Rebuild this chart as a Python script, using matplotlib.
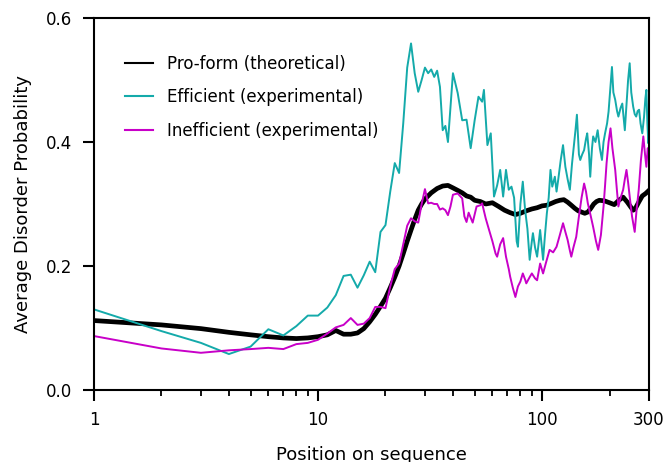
import matplotlib
matplotlib.use("Agg")
import matplotlib.pyplot as plt
from matplotlib.lines import Line2D
from matplotlib.ticker import FixedLocator, FixedFormatter, NullFormatter

plt.rcParams["font.family"] = ["DejaVu Sans"]

# pro-form (theoretical) disorder
pro_pos = [1, 2, 3, 4, 5, 6, 7, 8, 9, 10, 11, 12, 13, 14, 15, 16, 17, 18, 19, 20,
           21, 22, 23, 24, 25, 26, 27, 28, 29, 30, 32, 34, 36, 38, 40, 42, 44, 46,
           48, 50, 53, 56, 60, 64, 68, 72, 76, 80, 85, 90, 95, 100, 105, 110, 115,
           120, 125, 130, 135, 140, 145, 150, 155, 160, 165, 170, 175, 180, 190,
           200, 210, 220, 230, 240, 250, 255, 260, 270, 280, 290, 300]
pro_val = [0.112, 0.105, 0.099, 0.093, 0.089, 0.086, 0.084, 0.083, 0.084, 0.086,
           0.089, 0.096, 0.090, 0.090, 0.092, 0.099, 0.110, 0.122, 0.135, 0.148,
           0.165, 0.182, 0.200, 0.220, 0.240, 0.258, 0.275, 0.290, 0.300, 0.308,
           0.318, 0.325, 0.329, 0.330, 0.326, 0.322, 0.318, 0.313, 0.311, 0.306,
           0.304, 0.300, 0.302, 0.296, 0.290, 0.286, 0.283, 0.285, 0.289, 0.292,
           0.294, 0.297, 0.298, 0.301, 0.304, 0.306, 0.307, 0.303, 0.298, 0.293,
           0.289, 0.287, 0.285, 0.287, 0.293, 0.300, 0.304, 0.306, 0.305, 0.302,
           0.299, 0.306, 0.311, 0.303, 0.294, 0.290, 0.292, 0.303, 0.313, 0.317,
           0.322]

# efficient (experimental)
eff_pos = [1, 2, 3, 4, 5, 6, 7, 8, 9, 10, 11, 12, 13, 14, 15, 16, 17, 18, 19, 20,
           21, 22, 23, 24, 25, 26, 27, 28, 29, 30, 31, 32, 33, 34, 35, 36, 37, 38,
           39, 40, 42, 44, 46, 48, 50, 52, 54, 55, 57, 59, 61, 63, 65, 67, 69, 71,
           73, 75, 77, 78, 80, 82, 84, 86, 88, 90, 91, 93, 95, 98, 101, 103, 105,
           107, 109, 111, 114, 116, 118, 121, 124, 127, 130, 133, 136, 138, 141,
           143, 146, 148, 151, 154, 157, 159, 162, 164, 167, 169, 173, 177, 181,
           185, 188, 191, 195, 198, 202, 205, 208, 212, 216, 219, 224, 228, 231,
           234, 238, 242, 246, 250, 255, 259, 263, 267, 271, 275, 280, 285, 289,
           292, 295, 298, 300]
eff_val = [0.130, 0.095, 0.076, 0.058, 0.070, 0.098, 0.088, 0.103, 0.120, 0.120,
           0.133, 0.153, 0.184, 0.186, 0.165, 0.185, 0.207, 0.190, 0.255, 0.266,
           0.320, 0.366, 0.350, 0.430, 0.520, 0.559, 0.511, 0.481, 0.500, 0.520,
           0.511, 0.517, 0.505, 0.515, 0.489, 0.419, 0.426, 0.400, 0.455, 0.511,
           0.479, 0.435, 0.436, 0.390, 0.435, 0.473, 0.465, 0.484, 0.395, 0.414,
           0.312, 0.330, 0.355, 0.312, 0.355, 0.323, 0.328, 0.310, 0.240, 0.231,
           0.300, 0.336, 0.290, 0.260, 0.210, 0.240, 0.253, 0.230, 0.215, 0.258,
           0.210, 0.250, 0.285, 0.310, 0.355, 0.328, 0.344, 0.320, 0.339, 0.370,
           0.395, 0.360, 0.340, 0.323, 0.365, 0.387, 0.420, 0.444, 0.380, 0.371,
           0.380, 0.387, 0.405, 0.414, 0.380, 0.344, 0.390, 0.409, 0.400, 0.419,
           0.390, 0.371, 0.400, 0.414, 0.430, 0.449, 0.490, 0.521, 0.480, 0.468,
           0.450, 0.441, 0.455, 0.462, 0.440, 0.419, 0.460, 0.500, 0.527, 0.480,
           0.457, 0.445, 0.441, 0.450, 0.452, 0.430, 0.414, 0.440, 0.470, 0.484,
           0.430, 0.398, 0.450]

# inefficient (experimental)
ineff_pos = [1, 2, 3, 4, 5, 6, 7, 8, 9, 10, 11, 12, 13, 14, 15, 16, 17, 18, 19, 20,
             21, 22, 23, 24, 25, 26, 27, 28, 29, 30, 31, 32, 33, 34, 35, 36, 37, 38,
             39, 40, 42, 44, 45, 46, 47, 49, 51, 53, 54, 56, 58, 60, 62, 63, 65, 67,
             69, 71, 72, 74, 76, 78, 80, 82, 84, 85, 88, 90, 93, 95, 98, 101, 104,
             108, 112, 116, 120, 124, 127, 130, 133, 135, 138, 142, 146, 150, 154,
             157, 160, 165, 169, 174, 178, 183, 188, 191, 194, 198, 202, 206, 212,
             216, 219, 224, 230, 234, 238, 242, 246, 252, 259, 264, 270, 276, 283,
             288, 292, 296, 300]
ineff_val = [0.087, 0.067, 0.060, 0.064, 0.066, 0.068, 0.066, 0.074, 0.076, 0.081,
             0.091, 0.101, 0.105, 0.116, 0.105, 0.107, 0.116, 0.134, 0.134, 0.132,
             0.167, 0.195, 0.204, 0.235, 0.265, 0.277, 0.272, 0.270, 0.300, 0.324,
             0.301, 0.302, 0.300, 0.300, 0.291, 0.293, 0.290, 0.282, 0.296, 0.315,
             0.317, 0.309, 0.280, 0.271, 0.286, 0.270, 0.296, 0.298, 0.301, 0.277,
             0.258, 0.240, 0.220, 0.215, 0.235, 0.245, 0.215, 0.195, 0.183, 0.165,
             0.150, 0.167, 0.175, 0.188, 0.178, 0.172, 0.182, 0.188, 0.180, 0.177,
             0.204, 0.188, 0.205, 0.226, 0.222, 0.231, 0.250, 0.269, 0.255, 0.242,
             0.225, 0.215, 0.230, 0.247, 0.280, 0.310, 0.333, 0.320, 0.301, 0.280,
             0.263, 0.240, 0.226, 0.250, 0.296, 0.330, 0.366, 0.400, 0.422, 0.390,
             0.355, 0.320, 0.296, 0.310, 0.323, 0.340, 0.355, 0.335, 0.312, 0.280,
             0.255, 0.290, 0.323, 0.370, 0.409, 0.380, 0.360, 0.390, 0.387]

labels = ["Pro-form (theoretical)", "Efficient (experimental)",
          "Inefficient (experimental)"]
colors = ["black", "#14aaaa", "#c800c8"]

x_major = [1, 10, 100, 300]
x_major_labels = ["1", "10", "100", "300"]
x_minor = [2, 3, 4, 5, 6, 7, 8, 9, 20, 30, 40, 50, 60, 70, 80, 90, 200]
y_ticks = [0.0, 0.2, 0.4, 0.6]

fig = plt.figure(figsize=(6.65, 4.62), dpi=100)
ax = fig.add_axes([94 / 665, 72 / 462, 555 / 665, 372 / 462])

ax.plot(pro_pos, pro_val, color=colors[0], lw=3.4, solid_joinstyle="round")
ax.plot(eff_pos, eff_val, color=colors[1], lw=1.4)
ax.plot(ineff_pos, ineff_val, color=colors[2], lw=1.4)

ax.set_xscale("log")
ax.set_xlim(1, 300)
ax.set_ylim(0, 0.6)
ax.xaxis.set_major_locator(FixedLocator(x_major))
ax.xaxis.set_major_formatter(FixedFormatter(x_major_labels))
ax.xaxis.set_minor_locator(FixedLocator(x_minor))
ax.xaxis.set_minor_formatter(NullFormatter())
ax.set_yticks(y_ticks)
ax.set_yticklabels(["%.1f" % v for v in y_ticks])

for sp in ax.spines.values():
    sp.set_linewidth(1.5)
ax.tick_params(which="major", direction="out", length=8, width=1.5,
               labelsize=12, pad=7)
ax.tick_params(which="minor", direction="out", length=4.5, width=1.3)
ax.tick_params(axis="y", pad=8)

ax.set_xlabel("Position on sequence", fontsize=13, labelpad=12)
ax.set_ylabel("Average Disorder Probability", fontsize=13, labelpad=10)

handles = [Line2D([], [], color=c, lw=1.5) for c in colors]
ax.legend(handles, labels, loc="upper left", frameon=False, fontsize=12,
          bbox_to_anchor=(31 / 555, 335 / 372), borderpad=0, borderaxespad=0,
          handlelength=1.7, handletextpad=0.8, labelspacing=0.92)

fig.savefig("out.png", dpi=100)
